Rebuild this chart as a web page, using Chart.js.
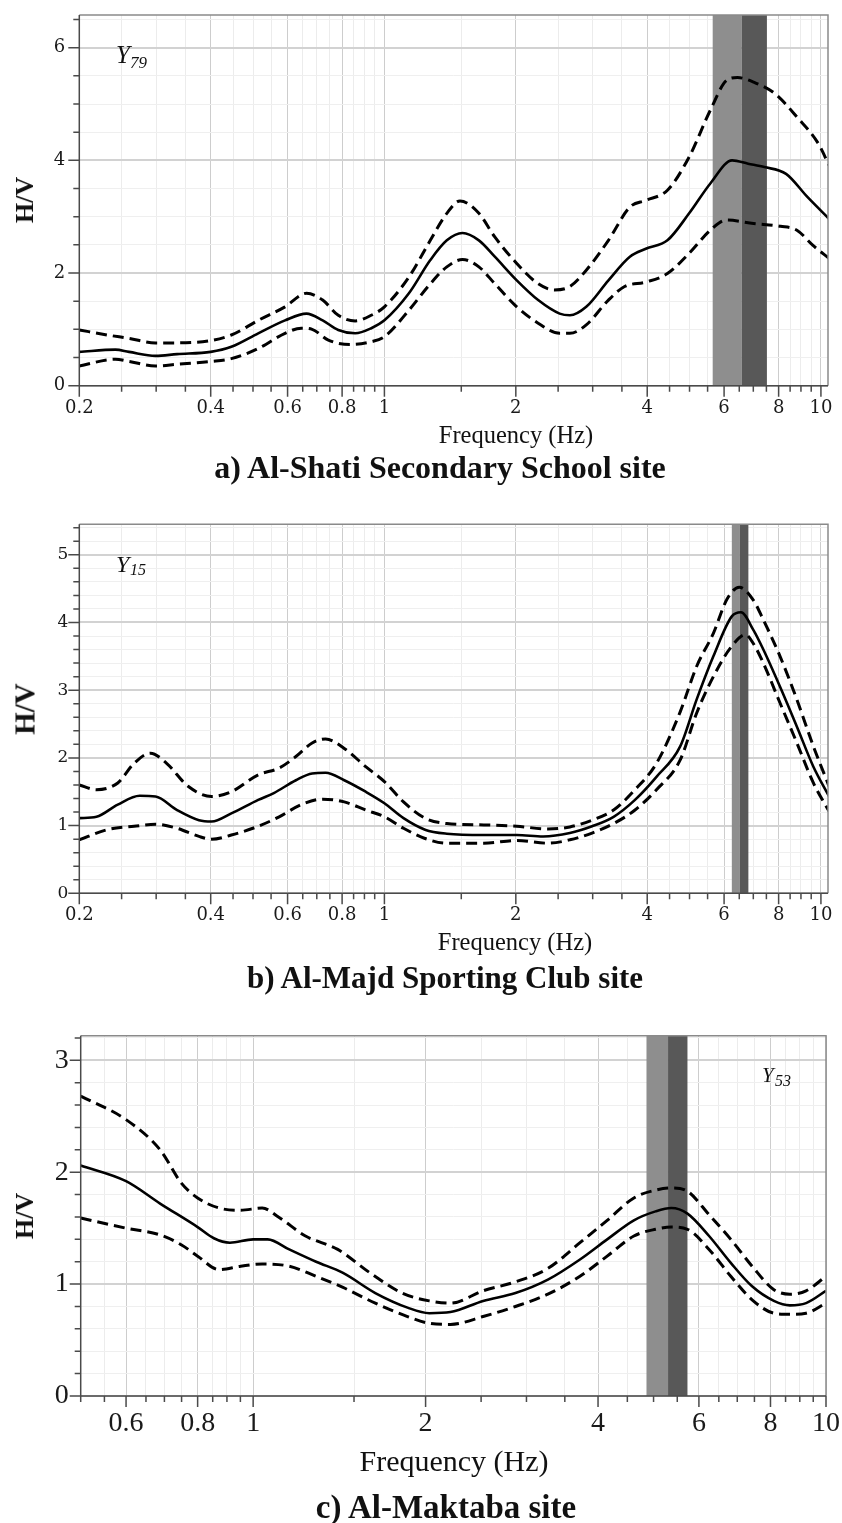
<!DOCTYPE html>
<html>
<head>
<meta charset="utf-8">
<script src="https://cdn.jsdelivr.net/npm/chart.js@4.4.1/dist/chart.umd.min.js"></script>
<style>
    body  { margin: 0; background: #fff; }
    #page { position: relative; width: 842px; height: 1523px; overflow: hidden; background: #fff; }
    canvas { position: absolute; left: 0; }
    .t    { position: absolute; white-space: nowrap; line-height: 1; color: #111;
            font-family: 'Liberation Serif', 'Times New Roman', serif; transform: translate(-50%, -50%); }
    .cap  { font-weight: bold; }
    .hv   { font-weight: bold; transform: translate(-50%, -50%) rotate(-90deg); }
    .lab  { position: absolute; white-space: nowrap; line-height: 1; color: #111;
            font-family: 'Liberation Serif', 'Times New Roman', serif; font-style: italic; }
</style>
</head>
<body>
<div id="page">
    <canvas id="chartA" width="842" height="432" style="top:0px"></canvas>
    <canvas id="chartB" width="842" height="450" style="top:500px"></canvas>
    <canvas id="chartC" width="842" height="445" style="top:1020px"></canvas>

    <div class="t hv"  style="left:25px; top:200px;  font-size:26px">H/V</div>
    <div class="t hv"  style="left:25px; top:709px;  font-size:29px">H/V</div>
    <div class="t hv"  style="left:25px; top:1216px; font-size:26px">H/V</div>

    <span class="lab" style="left:116px; top:42px;  font-size:25px">Y</span>
    <span class="lab" style="left:130px; top:54px;  font-size:17px">79</span>
    <span class="lab" style="left:116px; top:552px; font-size:24px">Y</span>
    <span class="lab" style="left:130px; top:562px; font-size:16px">15</span>
    <span class="lab" style="left:762px; top:1065px; font-size:21px">Y</span>
    <span class="lab" style="left:775px; top:1073px; font-size:16px">53</span>

    <div class="t" style="left:516px; top:435px;  font-size:24.5px">Frequency (Hz)</div>
    <div class="t" style="left:515px; top:942px;  font-size:24.5px">Frequency (Hz)</div>
    <div class="t" style="left:454px; top:1461px; font-size:30px">Frequency (Hz)</div>

    <div class="t cap" style="left:440px; top:467px;  font-size:32px">a) Al-Shati Secondary School site</div>
    <div class="t cap" style="left:445px; top:977px;  font-size:31px">b) Al-Majd Sporting Club site</div>
    <div class="t cap" style="left:446px; top:1507px; font-size:33px">c) Al-Maktaba site</div>
</div>

<script>
// ---- a) Al-Shati Secondary School site (Y79) ----
const freqA  = [0.2,0.242,0.26,0.299,0.335,0.4,0.446,0.514,0.592,0.663,0.722,0.784,0.857,0.933,1.0,1.138,1.274,1.39,1.51,1.646,1.79,2.01,2.25,2.52,2.66,2.90,3.26,3.65,3.97,4.45,4.99,5.58,6.26,6.81,7.42,8.32,9.31,10.44];
const hvA    = [0.60,0.64,0.60,0.53,0.56,0.60,0.69,0.93,1.16,1.28,1.16,0.99,0.93,1.02,1.16,1.64,2.23,2.58,2.71,2.58,2.29,1.87,1.52,1.28,1.25,1.40,1.87,2.29,2.43,2.58,3.06,3.59,4.00,3.94,3.88,3.76,3.35,2.96];
const freqAu = [0.2,0.232,0.26,0.299,0.335,0.4,0.446,0.514,0.592,0.663,0.722,0.784,0.857,0.933,1.0,1.138,1.274,1.39,1.49,1.646,1.79,2.01,2.25,2.45,2.66,2.90,3.26,3.65,3.97,4.45,4.99,5.58,6.08,6.44,7.01,7.86,8.81,9.86,10.44];
const hvAu   = [0.99,0.90,0.84,0.76,0.76,0.80,0.90,1.16,1.40,1.64,1.52,1.25,1.15,1.25,1.40,1.93,2.58,3.06,3.28,3.06,2.64,2.17,1.81,1.70,1.76,2.05,2.58,3.17,3.29,3.47,4.06,4.89,5.42,5.47,5.39,5.18,4.77,4.30,3.91];
const freqAl = [0.2,0.242,0.26,0.299,0.335,0.4,0.446,0.514,0.592,0.645,0.683,0.744,0.833,0.933,1.0,1.138,1.274,1.39,1.51,1.646,1.79,2.01,2.25,2.52,2.66,2.90,3.26,3.55,3.97,4.45,4.99,5.58,6.08,7.01,8.08,8.81,9.59,10.44];
const hvAl   = [0.35,0.47,0.43,0.35,0.38,0.43,0.48,0.66,0.93,1.02,1.00,0.81,0.73,0.78,0.87,1.34,1.81,2.11,2.24,2.11,1.81,1.40,1.11,0.93,0.93,1.08,1.52,1.76,1.84,1.99,2.35,2.76,2.94,2.88,2.83,2.76,2.49,2.26];
const bandA  = [5.65, 6.58, 7.52];   // light from..to, dark to

// ---- b) Al-Majd Sporting Club site (Y15) ----
const freqB  = [0.2,0.219,0.245,0.275,0.299,0.335,0.376,0.402,0.446,0.514,0.558,0.627,0.683,0.733,0.809,0.906,1.0,1.106,1.239,1.39,1.69,2.01,2.31,2.66,2.99,3.35,3.75,4.20,4.76,5.19,5.67,6.25,6.56,7.0,7.38,8.06,8.81,9.61,10.44];
const hvB    = [1.11,1.13,1.31,1.44,1.43,1.23,1.08,1.06,1.18,1.38,1.48,1.67,1.77,1.78,1.67,1.50,1.33,1.11,0.94,0.88,0.86,0.86,0.84,0.89,0.99,1.13,1.38,1.72,2.17,2.86,3.50,4.09,4.15,3.89,3.60,3.05,2.46,1.87,1.43];
const freqBu = [0.2,0.219,0.245,0.267,0.291,0.317,0.355,0.402,0.446,0.514,0.574,0.627,0.683,0.733,0.809,0.906,1.0,1.106,1.239,1.39,1.69,2.01,2.37,2.66,2.99,3.35,3.75,4.20,4.76,5.19,5.67,6.1,6.5,7.0,7.38,8.06,8.81,9.61,10.44];
const hvBu   = [1.60,1.53,1.63,1.92,2.07,1.92,1.58,1.43,1.50,1.75,1.85,2.02,2.22,2.28,2.14,1.87,1.65,1.35,1.11,1.03,1.01,0.99,0.95,0.98,1.08,1.23,1.53,1.92,2.68,3.35,3.84,4.35,4.52,4.33,4.04,3.50,2.86,2.17,1.58];
const freqBl = [0.2,0.232,0.267,0.299,0.335,0.376,0.402,0.446,0.514,0.574,0.645,0.722,0.809,0.906,1.0,1.106,1.239,1.39,1.69,2.01,2.37,2.66,2.99,3.35,3.75,4.20,4.76,5.19,5.67,6.2,6.72,7.0,7.38,8.06,8.81,9.61,10.44];
const hvBl   = [0.79,0.94,0.99,1.02,0.96,0.84,0.80,0.86,0.99,1.13,1.31,1.39,1.35,1.23,1.13,0.96,0.81,0.74,0.74,0.78,0.74,0.79,0.89,1.03,1.23,1.53,1.97,2.66,3.20,3.62,3.82,3.69,3.40,2.81,2.22,1.63,1.21];
const bandB  = [6.25, 6.52, 6.82];

// ---- c) Al-Maktaba site (Y53) ----
const freqC  = [0.5,0.6,0.688,0.8,0.854,0.911,1.0,1.06,1.156,1.288,1.435,1.634,1.86,2.03,2.21,2.52,2.87,3.27,3.72,4.15,4.62,5.04,5.37,5.73,6.25,6.82,7.43,8.11,8.65,9.23,10.0];
const hvC    = [2.06,1.92,1.72,1.51,1.41,1.37,1.40,1.40,1.31,1.20,1.10,0.92,0.79,0.74,0.75,0.85,0.92,1.04,1.22,1.40,1.57,1.65,1.68,1.63,1.43,1.19,0.98,0.85,0.81,0.83,0.94];
const freqCu = [0.5,0.6,0.688,0.75,0.8,0.872,0.951,1.037,1.107,1.234,1.405,1.60,1.82,2.03,2.21,2.52,2.87,3.27,3.72,4.15,4.62,5.04,5.37,5.73,6.25,6.82,7.43,8.11,8.65,9.23,10.0];
const hvCu   = [2.68,2.47,2.20,1.90,1.77,1.68,1.66,1.68,1.60,1.43,1.31,1.10,0.92,0.85,0.83,0.94,1.02,1.14,1.37,1.57,1.77,1.84,1.86,1.83,1.62,1.40,1.16,0.95,0.91,0.94,1.07];
const freqCl = [0.5,0.6,0.688,0.75,0.8,0.872,0.951,1.037,1.156,1.288,1.435,1.634,1.86,2.03,2.21,2.52,2.87,3.27,3.72,4.15,4.62,5.04,5.37,5.73,6.25,6.82,7.43,8.11,8.65,9.23,10.0];
const hvCl   = [1.59,1.50,1.44,1.35,1.25,1.13,1.16,1.18,1.16,1.07,0.97,0.83,0.71,0.65,0.64,0.71,0.80,0.91,1.07,1.25,1.43,1.49,1.51,1.49,1.31,1.07,0.86,0.74,0.73,0.74,0.83];
const bandC  = [4.86, 5.30, 5.73];

// ---- ticks ----
const xTicksMinor  = [0.2,0.25,0.3,0.35,0.4,0.45,0.5,0.55,0.6,0.65,0.7,0.75,0.8,0.85,0.9,0.95,1,1.5,2,2.5,3,3.5,4,4.5,5,5.5,6,6.5,7,7.5,8,8.5,9,9.5,10];
const xLabelValues = [0.2,0.4,0.6,0.8,1,2,4,6,8,10];
const xLabelText   = ['0.2','0.4','0.6','0.8','1','2','4','6','8','10'];
const yLabelsA = [0, 2, 4, 6];
const yLabelsB = [0, 1, 2, 3, 4, 5];
const yLabelsC = [0, 1, 2, 3];

const near = (a, b) => Math.abs(a - b) < 1e-6;
const isLabel = (list, v) => list.some(l => near(l, v));
const stepTicks = (max, step) => {
    const out = [];
    for (let k = 0; k * step <= max + 1e-9; k++) out.push(Math.round(k * step * 100) / 100);
    return out;
};
const pts = (f, v) => f.map((x, i) => ({ x: x, y: v[i] }));

// bands, plot frame and tick marks (major long, minor short)
const decor = {
    id: 'decor',
    beforeDatasetsDraw(chart, args, o) {
        const { ctx, chartArea: a, scales: { x } } = chart;
        const p0 = x.getPixelForValue(o.band[0]);
        const p1 = x.getPixelForValue(o.band[1]);
        const p2 = x.getPixelForValue(o.band[2]);
        ctx.save();
        ctx.fillStyle = '#8e8e8e';
        ctx.fillRect(p0, a.top, p1 - p0, a.bottom - a.top);
        ctx.fillStyle = '#585858';
        ctx.fillRect(p1, a.top, p2 - p1, a.bottom - a.top);
        ctx.restore();
    },
    afterDatasetsDraw(chart, args, o) {
        const { ctx, chartArea: a, scales: { x, y } } = chart;
        ctx.save();
        ctx.lineWidth = 1.5;
        ctx.strokeStyle = '#8a8a8a';
        ctx.beginPath();
        ctx.moveTo(a.left, a.top); ctx.lineTo(a.right, a.top); ctx.lineTo(a.right, a.bottom);
        ctx.stroke();
        ctx.strokeStyle = '#4a4a4a';
        ctx.beginPath();
        ctx.moveTo(a.left, a.top); ctx.lineTo(a.left, a.bottom); ctx.lineTo(a.right, a.bottom);
        x.ticks.forEach(t => {
            const px = x.getPixelForValue(t.value);
            const len = isLabel(xLabelValues, t.value) ? 11 : 6;
            ctx.moveTo(px, a.bottom); ctx.lineTo(px, a.bottom + len);
        });
        y.ticks.forEach(t => {
            const py = y.getPixelForValue(t.value);
            const len = isLabel(o.yLabels, t.value) ? 11 : 6;
            ctx.moveTo(a.left, py); ctx.lineTo(a.left - len, py);
        });
        ctx.stroke();
        ctx.restore();
    }
};

function makePanel(id, p) {
    const canvas = document.getElementById(id);
    const H = canvas.height;
    const line = (data, dashed) => ({
        data: data,
        borderColor: '#000',
        borderWidth: dashed ? 3 : 2.6,
        borderDash: dashed ? [11, 6] : [],
        pointRadius: 0,
        fill: false,
        cubicInterpolationMode: 'monotone',
    });

    new Chart(canvas, {
        type: 'line',
        data: {
            datasets: [
                line(pts(p.fu, p.vu), true),
                line(pts(p.fl, p.vl), true),
                line(pts(p.f, p.v), false),
            ]
        },
        options: {
            responsive: false,
            animation: false,
            devicePixelRatio: 1,
            layout: { padding: { left: 0, top: p.top, right: 842 - p.right, bottom: 0 } },
            plugins: {
                legend : { display: false },
                tooltip: { enabled: false },
                decor  : { band: p.band, yLabels: p.yLabels },
            },
            scales: {
                x: {
                    type: 'logarithmic',
                    min : p.xMin,
                    max : p.xMax,
                    border: { display: false },
                    grid: {
                        drawTicks: false,
                        color: c => isLabel(xLabelValues, c.tick.value) ? '#cdcdcd' : '#ececec',
                        lineWidth: 1,
                    },
                    ticks: {
                        autoSkip   : false,
                        maxRotation: 0,
                        padding    : p.xPad,
                        color      : '#1a1a1a',
                        font       : { family: p.tickFamily, size: p.tickSize },
                        callback   : v => {
                            const i = xLabelValues.findIndex(l => near(l, v));
                            return i >= 0 ? xLabelText[i] : '';
                        },
                    },
                    afterBuildTicks: s => {
                        s.ticks = xTicksMinor.filter(v => v >= p.xMin - 1e-9).map(v => ({ value: v }));
                    },
                    afterFit: s => {
                        s.height = H - p.bottom;
                        s.paddingLeft = 0; s.paddingRight = 0;
                    },
                },
                y: {
                    type: 'linear',
                    min : 0,
                    max : p.yMax,
                    border: { display: false },
                    grid: {
                        drawTicks: false,
                        color    : c => isLabel(p.yLabels, c.tick.value) ? '#d2d2d2' : '#efefef',
                        lineWidth: c => isLabel(p.yLabels, c.tick.value) ? 2 : 1,
                    },
                    ticks: {
                        autoSkip: false,
                        padding : p.yPad,
                        color   : '#1a1a1a',
                        font    : { family: p.tickFamily, size: p.yTickSize },
                        callback: v => isLabel(p.yLabels, v) ? String(Math.round(v)) : '',
                    },
                    afterBuildTicks: s => {
                        s.ticks = stepTicks(p.yMax, p.yStep).map(v => ({ value: v }));
                    },
                    afterFit: s => {
                        s.width = p.left;
                        s.paddingTop = 0; s.paddingBottom = 0;
                    },
                }
            }
        },
        plugins: [decor]
    });
}

makePanel('chartA', {
    f: freqA, v: hvA, fu: freqAu, vu: hvAu, fl: freqAl, vl: hvAl, band: bandA,
    xMin: 0.2, xMax: 10.38, yMax: 6.58, yStep: 0.5, yLabels: yLabelsA,
    left: 79.3, right: 828, top: 15, bottom: 385.7,
    tickFamily: "'DejaVu Serif', serif", tickSize: 18, yTickSize: 18, xPad: 12, yPad: 14,
});
makePanel('chartB', {
    f: freqB, v: hvB, fu: freqBu, vu: hvBu, fl: freqBl, vl: hvBl, band: bandB,
    xMin: 0.2, xMax: 10.38, yMax: 5.45, yStep: 0.2, yLabels: yLabelsB,
    left: 79.3, right: 828, top: 24.3, bottom: 393.3,
    tickFamily: "'DejaVu Serif', serif", tickSize: 18, yTickSize: 17, xPad: 11, yPad: 11,
});
makePanel('chartC', {
    f: freqC, v: hvC, fu: freqCu, vu: hvCu, fl: freqCl, vl: hvCl, band: bandC,
    xMin: 0.5, xMax: 10, yMax: 3.22, yStep: 0.2, yLabels: yLabelsC,
    left: 80.7, right: 826, top: 15.7, bottom: 376,
    tickFamily: "'Liberation Serif', serif", tickSize: 28, yTickSize: 28, xPad: 11, yPad: 12,
});
</script>
</body>
</html>
